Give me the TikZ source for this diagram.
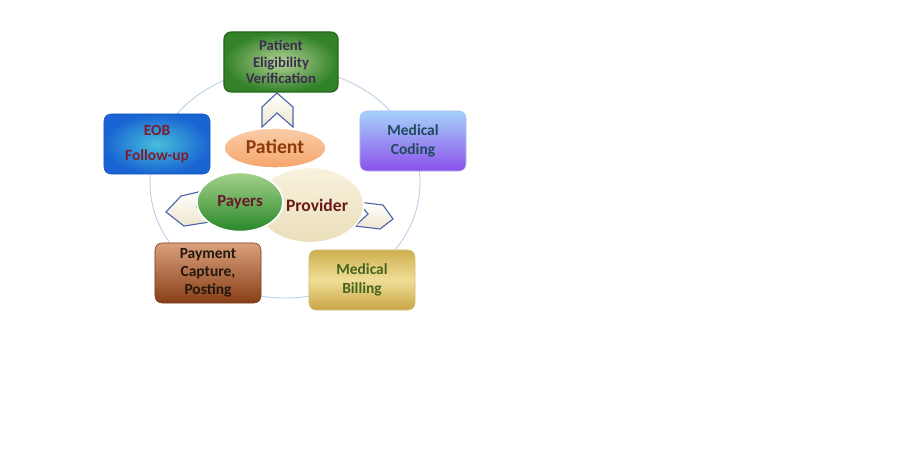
\documentclass[tikz,border=0pt]{standalone}
\usepackage{fontspec}
\setmainfont{Carlito}
\usepackage{tikz}
\usetikzlibrary{shapes.geometric}

\definecolor{ringBlue}{HTML}{B8CDE6}
\definecolor{chevLine}{HTML}{4A66A8}
\definecolor{chevFill}{HTML}{EFE6CF}

\begin{document}
\begin{tikzpicture}[
    x=0.025cm, y=-0.025cm,
    every node/.style={font=\bfseries\fontsize{11}{13}\selectfont, align=center},
    stepbox/.style={rectangle, rounded corners=5pt, minimum width=2.65cm, minimum height=1.5cm, inner sep=2pt},
    blob/.style={ellipse, inner sep=0pt},
    chevron/.style={draw=chevLine, line width=0.8pt, top color=white, bottom color=chevFill, line join=miter}
]

\useasboundingbox (0,0) rectangle (900,460);
\fill[white] (0,0) rectangle (900,460);

% Ring
\draw[ringBlue, line width=0.6pt] (285,183) ellipse [x radius=135, y radius=115];

% Chevrons
\draw[chevron] (262,107) -- (277,93) -- (293,107) -- (293,127) -- (277,113) -- (262,127) -- cycle;
\draw[chevron] (207,190) -- (181,196) -- (166,212) -- (184,226) -- (210,222) -- (197,207) -- cycle;
\draw[chevron] (358,202) -- (383,205) -- (393,219) -- (380,229) -- (355,226) -- (368,214) -- cycle;

% Nodes
\node[stepbox, minimum width=2.85cm, draw={rgb,255:red,40;green,100;blue,30}, line width=0.8pt,
      inner color={rgb,255:red,180;green,210;blue,150}, outer color={rgb,255:red,50;green,130;blue,40},
      text={rgb,255:red,60;green,45;blue,80}, font=\bfseries\fontsize{10.5}{11.5}\selectfont] (elig) at (281,62) {Patient\\Eligibility\\Verification};
\node[stepbox, draw={rgb,255:red,20;green,90;blue,190}, inner color={rgb,255:red,70;green,190;blue,220}, outer color={rgb,255:red,25;green,100;blue,210},
      text={rgb,255:red,125;green,30;blue,45}] (eob) at (157,144) {EOB\\[5pt]Follow-up};
\node[stepbox, draw={rgb,255:red,170;green,190;blue,240}, top color={rgb,255:red,165;green,210;blue,250}, bottom color={rgb,255:red,140;green,80;blue,235},
      text={rgb,255:red,30;green,75;blue,90}] (coding) at (413,141) {Medical\\Coding};
\node[stepbox, draw={rgb,255:red,120;green,60;blue,30}, top color={rgb,255:red,220;green,160;blue,125}, bottom color={rgb,255:red,135;green,62;blue,22},
      text={rgb,255:red,35;green,25;blue,15}] (payment) at (208,273) {Payment\\Capture,\\Posting};
\node[stepbox, draw={rgb,255:red,215;green,195;blue,120}, top color={rgb,255:red,205;green,175;blue,80},
      bottom color={rgb,255:red,200;green,165;blue,70}, middle color={rgb,255:red,240;green,222;blue,150},
      text={rgb,255:red,70;green,100;blue,30}] (billing) at (362,280) {Medical\\Billing};

\node[blob, minimum width=2.55cm, minimum height=1.0cm, draw=white, line width=1pt,
      top color={rgb,255:red,250;green,205;blue,170}, bottom color={rgb,255:red,245;green,165;blue,105},
      text={rgb,255:red,140;green,58;blue,14},
      font=\bfseries\fontsize{14}{16}\selectfont] (patient) at (275,148) {\raisebox{2pt}{Patient}};
\node[blob, minimum width=2.5cm, minimum height=1.88cm, draw=white, line width=1pt,
      top color={rgb,255:red,248;green,242;blue,222}, bottom color={rgb,255:red,234;green,222;blue,185},
      text={rgb,255:red,105;green,25;blue,25}, font=\bfseries\fontsize{12.5}{14}\selectfont] (provider) at (310,205) {\hspace*{10pt}Provider};
\node[blob, minimum width=2.15cm, minimum height=1.48cm, draw=white, line width=1.2pt,
      top color={rgb,255:red,165;green,210;blue,140}, bottom color={rgb,255:red,40;green,135;blue,40},
      text={rgb,255:red,105;green,25;blue,40}, font=\bfseries\fontsize{12}{14}\selectfont] (payers) at (240,202) {Payers};

\end{tikzpicture}
\end{document}
